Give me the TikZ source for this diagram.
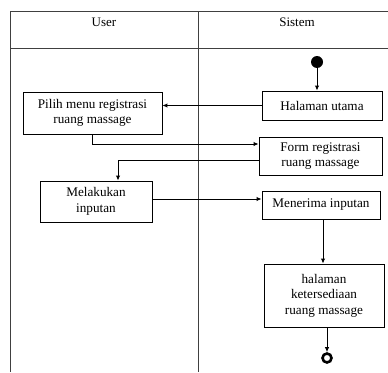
\documentclass[tikz,border=0pt]{standalone}
\usepackage{fontspec}
\setmainfont{Liberation Serif}
\usetikzlibrary{arrows.meta}
\begin{document}
\begin{tikzpicture}[x=1pt,y=-1pt,
  act/.style={draw=black,line width=0.9pt,align=center,inner sep=0pt,font=\fontsize{13.2}{15.5}\selectfont,fill=white},
  flow/.style={draw=black,line width=1pt,-{Latex[length=5pt,width=4.5pt]}},
  frame/.style={draw=black!75,line width=0.6pt}]
\useasboundingbox (0,0) rectangle (388,372);
% swimlanes
\draw[frame] (388,11) -- (10,11) -- (10,372);
\draw[frame] (10,48) -- (388,48);
\draw[frame] (198,11) -- (198,372);
\node (huser) at (104,22) {\fontsize{13}{15}\selectfont User};
\node (hsys) at (297,22) {\fontsize{13}{15}\selectfont Sistem};
% nodes
\node[circle,fill=black,minimum size=12pt,inner sep=0pt] (start) at (317,62) {};
\node[act,minimum width=120pt,minimum height=29pt] (hal) at (322,105.5) {Halaman utama};
\node[act,minimum width=139pt,minimum height=42pt] (pilih) at (92.5,113) {Pilih menu registrasi\\ruang massage};
\node[act,minimum width=123pt,minimum height=38pt] (form) at (320.5,156) {Form registrasi\\ruang massage};
\node[act,minimum width=112pt,minimum height=41pt] (mel) at (96,201.5) {Melakukan\\inputan};
\node[act,minimum width=118pt,minimum height=28pt] (mener) at (321,205) {Menerima inputan};
\node[act,minimum width=120pt,minimum height=63pt] (kets) at (324,295.5) {halaman\\ketersediaan\\ruang massage};
\node[circle,draw=black,line width=2.6pt,minimum size=9pt,inner sep=0pt] (end) at (327,358) {};
% connectors
\draw[flow] (start) -- (hal.north -| start);
\draw[flow] (hal.west) -- (pilih.east |- hal.west);
\coordinate (c1) at (92,144);
\draw[flow] (pilih.south -| c1) -- (c1) -- (form.west |- c1);
\coordinate (c2) at (118,160);
\draw[flow] (form.west |- c2) -- (c2) -- (mel.north -| c2);
\draw[flow] (mel.east |- 0,199) -- (mener.west |- 0,199);
\coordinate (c3) at (323,0);
\draw[flow] (mener.south -| c3) -- (kets.north -| c3);
\draw[flow] (kets.south -| end) -- (end.north);
\end{tikzpicture}
\end{document}
